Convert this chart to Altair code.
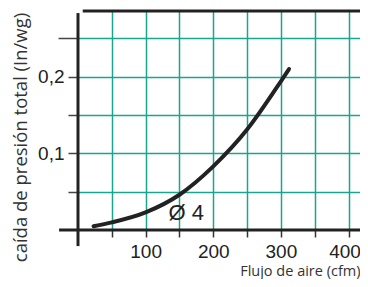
import altair as alt
import pandas as pd

# Curve data
flow = [23, 50, 100, 150, 200, 250, 300, 312]
drop = [0.005, 0.010, 0.023, 0.046, 0.083, 0.131, 0.194, 0.210]

x_ticks = [50, 100, 150, 200, 250, 300, 350, 400]
y_ticks = [0.05, 0.10, 0.15, 0.20, 0.25]

label_text = ["Ø 4"]
label_x = [160]
label_y = [0.022]

X_DOMAIN = [0, 417]
Y_DOMAIN = [0, 0.2857]
GRID = "#1aa68e"

curve_df = pd.DataFrame({"flow": flow, "drop": drop})
label_df = pd.DataFrame({"t": label_text, "x": label_x, "y": label_y})

xs = alt.Scale(domain=X_DOMAIN, nice=False, zero=False)
ys = alt.Scale(domain=Y_DOMAIN, nice=False, zero=False)

x_axis = alt.Axis(
    values=x_ticks, grid=True, gridColor=GRID, gridWidth=1.5, gridOpacity=1,
    domain=False, ticks=True, tickSize=7, tickColor="#333", tickWidth=1.5,
    labelExpr="datum.value % 100 == 0 ? datum.label : ''",
    labelOffset={"condition": {"test": "datum.value == 400", "value": -4}, "value": 0},
    labelFont="Liberation Sans", labelFontSize=19, labelColor="#222",
    labelPadding=5, title="Flujo de aire (cfm)", titleFont="Open Sans",
    titleFontSize=14.5, titleFontWeight="normal", titleColor="#333",
    titleAnchor="end", titleAlign="right", titleBaseline="alphabetic",
    titleX=282, titleY=45.5,
)
y_axis = alt.Axis(
    values=y_ticks, grid=True, gridColor=GRID, gridWidth=1.5, gridOpacity=1,
    domain=False, ticks=True,
    tickSize={"condition": {"test": "datum.value > 0.24", "value": 20}, "value": 10},
    tickColor="#444", tickWidth=1.5,
    labelExpr="round(datum.value*100) == 10 ? '0,1' : (round(datum.value*100) == 20 ? '0,2' : '')",
    labelFont="Liberation Sans", labelFontSize=19, labelColor="#222",
    labelPadding=4, title="caída de presión total (In/wg)", titleFont="Open Sans",
    titleFontSize=18.5, titleFontWeight="normal", titleColor="#333",
    titleX=-48, titleY=126,
)

base = alt.Chart(curve_df)

curve = base.mark_line(color="#222", strokeWidth=4, interpolate="monotone", strokeCap="round").encode(
    x=alt.X("flow:Q", scale=xs, axis=x_axis),
    y=alt.Y("drop:Q", scale=ys, axis=y_axis),
)

axes_df = pd.DataFrame({
    "x": [-28, 0, 7],
    "x2": [417, 0, 417],
    "y": [0, -0.021, Y_DOMAIN[1]],
    "y2": [0, 0.283, Y_DOMAIN[1]],
})
axes_lines = alt.Chart(axes_df).mark_rule(color="#222", strokeWidth=3).encode(
    x=alt.X("x:Q", scale=xs), x2="x2:Q",
    y=alt.Y("y:Q", scale=ys), y2="y2:Q",
)

label = alt.Chart(label_df).mark_text(
    font="Liberation Sans", fontSize=22, color="#222", align="center", baseline="middle"
).encode(
    x=alt.X("x:Q", scale=xs), y=alt.Y("y:Q", scale=ys), text="t:N"
)

chart = alt.layer(axes_lines, curve, label).properties(
    width=282, height=219,
    autosize=alt.AutoSizeParams(type="none"),
    padding={"left": 70, "top": 3, "right": 0, "bottom": 49},
    background="white",
).configure_view(stroke=None)

chart.save("out.html", embed_options={"renderer": "svg", "actions": False})
